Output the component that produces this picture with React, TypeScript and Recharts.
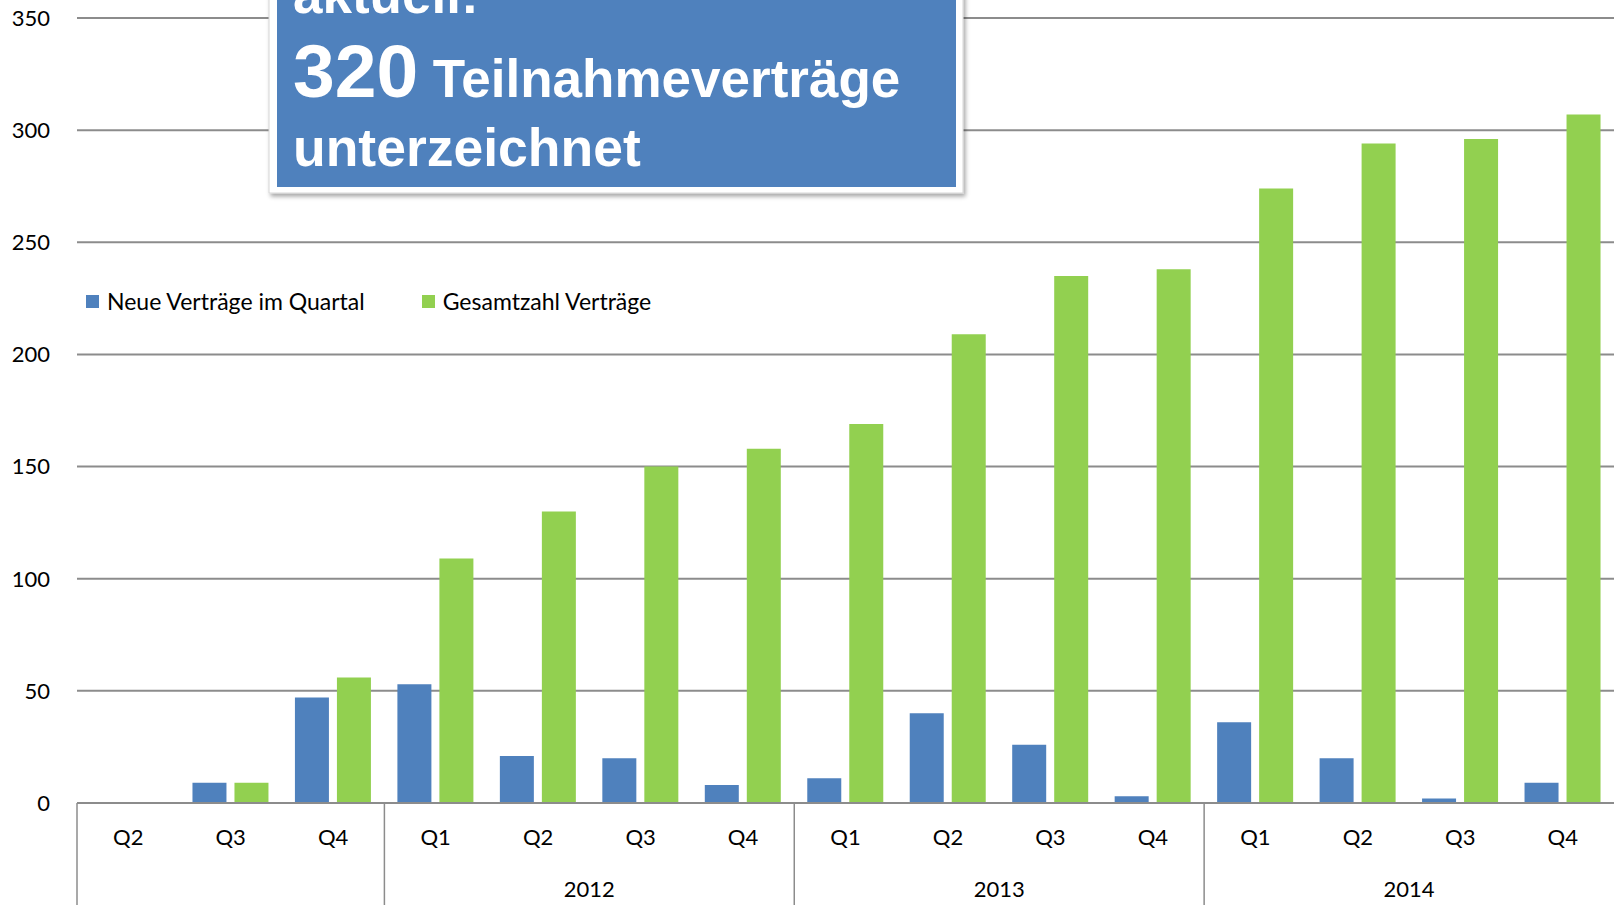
import { BarChart, Bar, XAxis, YAxis, CartesianGrid, Legend } from 'recharts'

const quarters = ['Q2', 'Q3', 'Q4', 'Q1', 'Q2', 'Q3', 'Q4', 'Q1', 'Q2', 'Q3', 'Q4', 'Q1', 'Q2', 'Q3', 'Q4']
const years = ['2011', '2011', '2011', '2012', '2012', '2012', '2012', '2013', '2013', '2013', '2013', '2014', '2014', '2014', '2014']
const labelledYears = ['2012', '2013', '2014']
const newContracts = [0, 9, 47, 53, 21, 20, 8, 11, 40, 26, 3, 36, 20, 2, 9]
const totalContracts = [0, 9, 56, 109, 130, 150, 158, 169, 209, 235, 238, 274, 294, 296, 307]
const yTicks = [0, 50, 100, 150, 200, 250, 300, 350]

const seriesNames = { newContracts: 'Neue Verträge im Quartal', total: 'Gesamtzahl Verträge' }

const data = quarters.map((q, i) => ({
  q,
  year: years[i],
  newContracts: newContracts[i],
  total: totalContracts[i],
}))

const W = 1614
const H = 905
const Y_AXIS_W = 77
const X_AXIS_H = 102
const BLUE = '#4F81BD'
const GREEN = '#92D050'
const GRID = '#8c8c8c'
const FONT = 'Lato, "Open Sans", sans-serif'

const band = (W - Y_AXIS_W) / quarters.length

// two-level category axis: quarter label, year label centred under its group, group separators
function QuarterTick(props: any) {
  const { x, y, index, payload } = props
  const year = years[index]
  const first = years.indexOf(year)
  const count = years.filter((v) => v === year).length
  const isFirst = index === first
  return (
    <g>
      <text x={x} y={y + 33} textAnchor="middle" dominantBaseline="central" fontSize={22} fontFamily={FONT} fill="#000">
        {payload.value}
      </text>
      {isFirst && (
        <line x1={x - band / 2} x2={x - band / 2} y1={y} y2={y + X_AXIS_H} stroke={GRID} strokeWidth={1.5} />
      )}
      {isFirst && labelledYears.includes(year) && (
        <text
          x={x - band / 2 + (count * band) / 2}
          y={y + 85}
          textAnchor="middle"
          dominantBaseline="central"
          fontSize={22}
          fontFamily={FONT}
          fill="#000"
        >
          {year}
        </text>
      )}
    </g>
  )
}

function LegendContent() {
  const item = (color: string, label: string, mr: number) => (
    <span style={{ display: 'inline-flex', alignItems: 'center', marginRight: mr }}>
      <span style={{ width: 13, height: 13, background: color, display: 'inline-block', marginRight: 8 }} />
      <span>{label}</span>
    </span>
  )
  return (
    <div style={{ fontFamily: FONT, fontSize: 23, color: '#000', whiteSpace: 'nowrap', display: 'flex' }}>
      {item(BLUE, seriesNames.newContracts, 57)}
      {item(GREEN, seriesNames.total, 0)}
    </div>
  )
}

export default function App() {
  return (
    <div style={{ position: 'absolute', left: 0, top: 0, width: W, height: H, background: '#fff', overflow: 'hidden' }}>
      <BarChart
        width={W}
        height={H}
        data={data}
        margin={{ top: 18, right: 0, bottom: 0, left: 0 }}
        barSize={34}
        barGap={8}
        style={{ fontFamily: FONT }}
      >
        <CartesianGrid vertical={false} stroke={GRID} strokeWidth={2} />
        <XAxis
          dataKey="q"
          height={X_AXIS_H}
          interval={0}
          tickSize={0}
          tickMargin={0}
          tick={<QuarterTick />}
          axisLine={{ stroke: GRID, strokeWidth: 2 }}
        />
        <YAxis
          width={Y_AXIS_W}
          domain={[0, 350]}
          ticks={yTicks}
          tickSize={0}
          tickMargin={27}
          axisLine={false}
          tick={{ fontSize: 22, fill: '#000', fontFamily: FONT }}
        />
        <Legend
          layout="horizontal"
          verticalAlign="middle"
          align="center"
          wrapperStyle={{ top: 287, left: 86, width: 'auto' }}
          content={<LegendContent />}
        />
        <Bar dataKey="newContracts" name={seriesNames.newContracts} fill={BLUE} isAnimationActive={false} />
        <Bar dataKey="total" name={seriesNames.total} fill={GREEN} isAnimationActive={false} />
      </BarChart>
      {/* callout box over the top of the chart */}
      <svg width={W} height={H} style={{ position: 'absolute', left: 0, top: 0, pointerEvents: 'none' }}>
        <defs>
          <filter id="boxShadow" x="-5%" y="-5%" width="110%" height="120%">
            <feDropShadow dx="2" dy="3" stdDeviation="2" floodColor="#000" floodOpacity="0.35" />
          </filter>
        </defs>
        <rect x={269} y={-20} width={694} height={213} fill="#fff" stroke="#d6d6d6" strokeWidth={1} filter="url(#boxShadow)" />
        <rect x={277} y={-20} width={679} height={207} fill={BLUE} />
        <g fill="#fff" fontFamily='"Liberation Sans", Arial, sans-serif' fontWeight="bold">
          <text x={293} y={13} fontSize={53}>aktuell:</text>
          <text x={293} y={97}>
            <tspan fontSize={75}>320</tspan>
            <tspan fontSize={53}> Teilnahmeverträge</tspan>
          </text>
          <text x={293} y={166} fontSize={53.5}>unterzeichnet</text>
        </g>
      </svg>
    </div>
  )
}
